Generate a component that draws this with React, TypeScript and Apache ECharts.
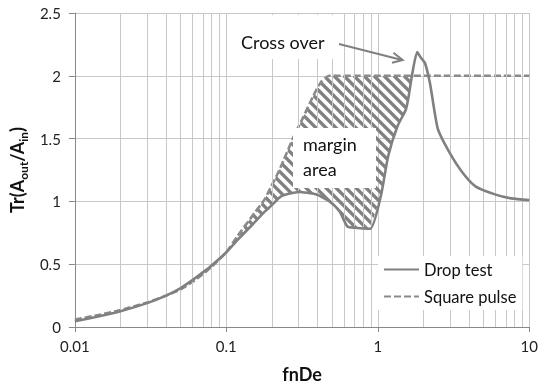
import React, { useEffect, useRef } from 'react';
import * as echarts from 'echarts';

// Drop test (solid) curve
const dropX = [0.01, 0.015, 0.02, 0.03, 0.04, 0.05, 0.06, 0.07, 0.08, 0.1, 0.12, 0.15, 0.18, 0.2, 0.23, 0.3, 0.39, 0.48, 0.56, 0.63, 0.71, 0.89, 1.05, 1.17, 1.35, 1.53, 1.6, 1.69, 1.82, 1.91, 2.05, 2.21, 2.38, 2.5, 2.97, 3.62, 4.41, 5.93, 7.59, 10];
const dropY = [0.045, 0.09, 0.125, 0.19, 0.25, 0.31, 0.375, 0.435, 0.49, 0.595, 0.7, 0.82, 0.92, 0.97, 1.04, 1.075, 1.056, 1.0, 0.92, 0.8, 0.79, 0.782, 1.05, 1.36, 1.6, 1.73, 1.84, 2.02, 2.19, 2.15, 2.1, 1.94, 1.7, 1.57, 1.39, 1.23, 1.12, 1.056, 1.024, 1.01];

// Square pulse (dashed) curve
const squareX = [0.01, 0.015, 0.02, 0.03, 0.04, 0.05, 0.06, 0.07, 0.08, 0.09, 0.1, 0.118, 0.154, 0.179, 0.198, 0.218, 0.24, 0.279, 0.324, 0.375, 0.424, 0.48, 10];
const squareY = [0.06, 0.1, 0.135, 0.195, 0.25, 0.3, 0.36, 0.42, 0.48, 0.54, 0.595, 0.72, 0.91, 1.016, 1.12, 1.22, 1.333, 1.518, 1.677, 1.84, 1.955, 2.0, 2.0];

// margin area limits (x) and cross over level
const hatchStart = 0.118;
const hatchEnd = 1.68;
const crossLevel = 2.0;

// minor vertical grid lines of the log axis
const minorX = [0.02, 0.03, 0.04, 0.05, 0.06, 0.07, 0.08, 0.09, 0.2, 0.3, 0.4, 0.5, 0.6, 0.7, 0.8, 0.9, 2, 3, 4, 5, 6, 7, 8, 9];

const seriesNames = ['Drop test', 'Square pulse'];

const FONT = 'Lato, "Open Sans", sans-serif';
const GRAY = '#808080';
const GRID = '#c8c8c8';

export default function App() {
  const ref = useRef<HTMLDivElement>(null);
  useEffect(() => {
    const chart = echarts.init(ref.current!, null, { renderer: 'svg' });
    const dropPts = dropX.map((x, i) => [x, dropY[i]]);
    const sqPts = squareX.map((x, i) => [x, squareY[i]]);
    const upper = sqPts.filter((p) => p[0] >= hatchStart && p[0] <= hatchEnd);
    upper.push([hatchEnd, crossLevel]);
    const lower = dropPts.filter((p) => p[0] >= hatchStart && p[0] < hatchEnd).reverse();
    const hatchPoly = upper.concat(lower);

    const option: any = {
      animation: false,
      grid: { left: 65, right: 9, top: 13, bottom: 60 },
      xAxis: {
        type: 'log',
        logBase: 10,
        min: 0.01,
        max: 10,
        name: 'fnDe',
        nameLocation: 'middle',
        nameGap: 38,
        nameTextStyle: { fontFamily: FONT, fontWeight: 'bold', fontSize: 18, color: '#111' },
        axisLine: { show: true, lineStyle: { color: '#888', width: 1 } },
        axisTick: { show: true, length: 5, lineStyle: { color: '#888' } },
        axisLabel: { fontFamily: FONT, fontSize: 15, color: '#222', margin: 11 },
        splitLine: { show: true, lineStyle: { color: GRID, width: 1 } },
        minorTick: { show: false },
        minorSplitLine: { show: false },
      },
      yAxis: {
        type: 'value',
        min: 0,
        max: 2.5,
        interval: 0.5,
        name: '{m|Tr(A}{s|out}{m|/A}{s|in}{m|)}',
        nameLocation: 'middle',
        nameGap: 40,
        nameRotate: 90,
        nameTextStyle: {
          fontFamily: FONT,
          fontWeight: 'bold',
          fontSize: 18,
          color: '#111',
          rich: {
            m: { fontFamily: FONT, fontWeight: 'bold', fontSize: 18, lineHeight: 24, color: '#111' },
            s: { fontFamily: FONT, fontWeight: 'bold', fontSize: 12, lineHeight: 14, verticalAlign: 'bottom', color: '#111' },
          },
        },
        axisLine: { show: true, lineStyle: { color: '#888', width: 1 } },
        axisTick: { show: true, length: 6, lineStyle: { color: '#888' } },
        axisLabel: { fontFamily: FONT, fontSize: 15, color: '#222', margin: 14 },
        splitLine: { show: true, lineStyle: { color: GRID, width: 1 } },
      },
      legend: {
        data: seriesNames,
        orient: 'vertical',
        left: 378,
        top: 256,
        itemWidth: 35,
        itemHeight: 14,
        itemGap: 10,
        padding: [5, 6, 5, 5],
        backgroundColor: '#fff',
        itemStyle: { opacity: 0 },
        textStyle: { fontFamily: FONT, fontSize: 16.5, color: '#111' },
        z: 20,
      },
      series: [
        {
          name: 'minor-grid',
          type: 'line',
          data: [[1, -1]],
          symbol: 'none',
          lineStyle: { opacity: 0 },
          silent: true,
          z: 1,
          markLine: {
            silent: true,
            symbol: ['none', 'none'],
            label: { show: false },
            lineStyle: { color: GRID, type: 'solid', width: 1 },
            emphasis: { disabled: true },
            data: minorX.map((v) => ({ xAxis: v })),
          },
        },
        {
          name: 'hatch',
          type: 'custom',
          silent: true,
          z: 2,
          data: [hatchPoly[0]],
          renderItem: (params: any, api: any) => {
            if (params.dataIndex !== 0) return null;
            const pts = hatchPoly.map((p) => api.coord(p));
            let minX = Infinity, maxX = -Infinity, minY = Infinity, maxY = -Infinity;
            pts.forEach((p: number[]) => {
              minX = Math.min(minX, p[0]);
              maxX = Math.max(maxX, p[0]);
              minY = Math.min(minY, p[1]);
              maxY = Math.max(maxY, p[1]);
            });
            const h = maxY - minY;
            const children: any[] = [];
            for (let c = minX - h - 10; c <= maxX + 10; c += 10) {
              children.push({
                type: 'line',
                shape: { x1: c, y1: minY, x2: c + h, y2: maxY },
                style: { stroke: GRAY, lineWidth: 3.4 },
              });
            }
            return {
              type: 'group',
              children,
              clipPath: { type: 'polygon', shape: { points: pts } },
            };
          },
        },
        {
          name: 'Drop test',
          type: 'line',
          data: dropPts,
          symbol: 'none',
          smooth: 0.2,
          z: 5,
          lineStyle: { color: GRAY, width: 2.6, type: 'solid' },
          itemStyle: { color: GRAY },
        },
        {
          name: 'Square pulse',
          type: 'line',
          data: sqPts,
          symbol: 'none',
          smooth: 0.2,
          z: 4,
          lineStyle: { color: '#8a8a8a', width: 2.6, type: [7, 3] },
          itemStyle: { color: '#8a8a8a' },
        },
      ],
      graphic: [
        { type: 'rect', z: 50, shape: { x: 228, y: 15, width: 108, height: 44 }, style: { fill: '#fff' } },
        { type: 'text', z: 51, x: 241, y: 33, style: { text: 'Cross over', font: '18px ' + FONT, fill: '#111' } },
        { type: 'line', z: 51, shape: { x1: 339, y1: 44, x2: 402, y2: 60 }, style: { stroke: GRAY, lineWidth: 2 } },
        { type: 'polyline', z: 51, shape: { points: [[393.4, 52.7], [402.7, 60], [392, 62.7]] }, style: { stroke: GRAY, lineWidth: 2, fill: null } },
        { type: 'rect', z: 50, shape: { x: 293, y: 128, width: 83, height: 60 }, style: { fill: '#fff' } },
        { type: 'text', z: 51, x: 303, y: 135, style: { text: 'margin', font: '18px ' + FONT, fill: '#111' } },
        { type: 'text', z: 51, x: 303, y: 160, style: { text: 'area', font: '18px ' + FONT, fill: '#111' } },
      ],
    };
    chart.setOption(option);
    return () => chart.dispose();
  }, []);
  return <div ref={ref} style={{ position: 'fixed', left: 0, top: 0, width: 541, height: 388 }} />;
}
